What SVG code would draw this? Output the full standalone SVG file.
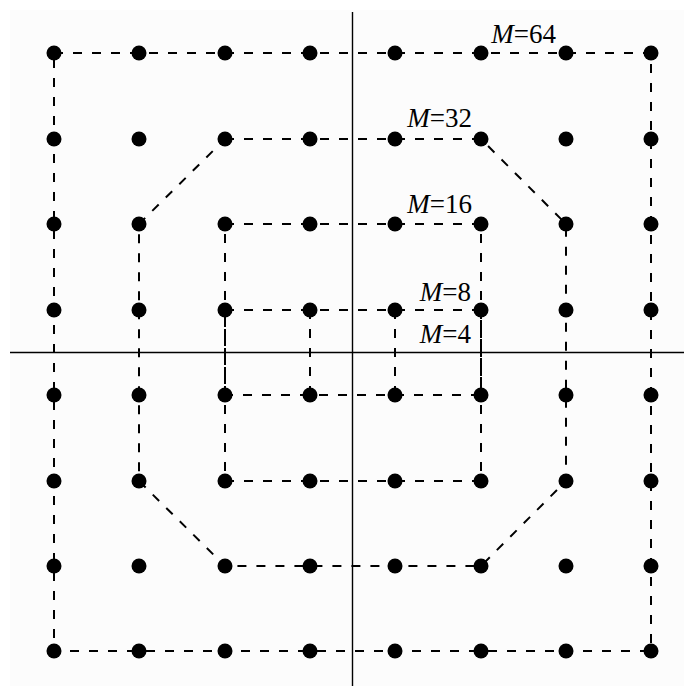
<svg xmlns="http://www.w3.org/2000/svg" width="684" height="686" viewBox="0 0 684 686">
<defs>
<style>
.dot{fill:#000}
.ring{fill:none;stroke:#000;stroke-width:2;stroke-dasharray:9 10}
.axis{stroke:#000;stroke-width:1.4}
.lbl{font-family:"Liberation Serif","DejaVu Serif",serif;font-size:27px;fill:#000;text-anchor:end}
</style>
<circle id="d" r="7.5" class="dot"/>
</defs>
<rect width="684" height="686" fill="#fff"/>
<rect x="10" y="10" width="674" height="676" fill="#fcfcfc"/>
<g id="axes">
<line class="axis" x1="352.5" y1="12" x2="352.5" y2="686"/>
<line class="axis" x1="10" y1="352.5" x2="684" y2="352.5"/>
</g>
<g id="connectors">
<path id="ring64" class="ring" d="M54,53H651V651H54Z"/>
<path id="ring32" class="ring" d="M225,139H481L566,224V481L481,566H225L139,481V224Z"/>
<path id="ring16" class="ring" d="M225,224H481V481H225Z"/>
<path id="ring8" class="ring" d="M225,310H481V395H225Z"/>
<path id="ring4" class="ring" d="M310,310V395M395,310V395"/>
</g>
<g id="dots">
<g id="row1"><use href="#d" x="54" y="53"/><use href="#d" x="139" y="53"/><use href="#d" x="225" y="53"/><use href="#d" x="310" y="53"/><use href="#d" x="395" y="53"/><use href="#d" x="481" y="53"/><use href="#d" x="566" y="53"/><use href="#d" x="651" y="53"/></g>
<g id="row2"><use href="#d" x="54" y="139"/><use href="#d" x="139" y="139"/><use href="#d" x="225" y="139"/><use href="#d" x="310" y="139"/><use href="#d" x="395" y="139"/><use href="#d" x="481" y="139"/><use href="#d" x="566" y="139"/><use href="#d" x="651" y="139"/></g>
<g id="row3"><use href="#d" x="54" y="224"/><use href="#d" x="139" y="224"/><use href="#d" x="225" y="224"/><use href="#d" x="310" y="224"/><use href="#d" x="395" y="224"/><use href="#d" x="481" y="224"/><use href="#d" x="566" y="224"/><use href="#d" x="651" y="224"/></g>
<g id="row4"><use href="#d" x="54" y="310"/><use href="#d" x="139" y="310"/><use href="#d" x="225" y="310"/><use href="#d" x="310" y="310"/><use href="#d" x="395" y="310"/><use href="#d" x="481" y="310"/><use href="#d" x="566" y="310"/><use href="#d" x="651" y="310"/></g>
<g id="row5"><use href="#d" x="54" y="395"/><use href="#d" x="139" y="395"/><use href="#d" x="225" y="395"/><use href="#d" x="310" y="395"/><use href="#d" x="395" y="395"/><use href="#d" x="481" y="395"/><use href="#d" x="566" y="395"/><use href="#d" x="651" y="395"/></g>
<g id="row6"><use href="#d" x="54" y="481"/><use href="#d" x="139" y="481"/><use href="#d" x="225" y="481"/><use href="#d" x="310" y="481"/><use href="#d" x="395" y="481"/><use href="#d" x="481" y="481"/><use href="#d" x="566" y="481"/><use href="#d" x="651" y="481"/></g>
<g id="row7"><use href="#d" x="54" y="566"/><use href="#d" x="139" y="566"/><use href="#d" x="225" y="566"/><use href="#d" x="310" y="566"/><use href="#d" x="395" y="566"/><use href="#d" x="481" y="566"/><use href="#d" x="566" y="566"/><use href="#d" x="651" y="566"/></g>
<g id="row8"><use href="#d" x="54" y="651"/><use href="#d" x="139" y="651"/><use href="#d" x="225" y="651"/><use href="#d" x="310" y="651"/><use href="#d" x="395" y="651"/><use href="#d" x="481" y="651"/><use href="#d" x="566" y="651"/><use href="#d" x="651" y="651"/></g>
</g>
<g id="labels">
<g id="lbl64"><text class="lbl" x="556" y="43"><tspan font-style="italic">M</tspan>=64</text></g>
<g id="lbl32"><text class="lbl" x="472" y="127"><tspan font-style="italic">M</tspan>=32</text></g>
<g id="lbl16"><text class="lbl" x="472" y="213"><tspan font-style="italic">M</tspan>=16</text></g>
<g id="lbl8"><text class="lbl" x="471" y="301"><tspan font-style="italic">M</tspan>=8</text></g>
<g id="lbl4"><text class="lbl" x="471" y="343"><tspan font-style="italic">M</tspan>=4</text></g>
</g>
</svg>
